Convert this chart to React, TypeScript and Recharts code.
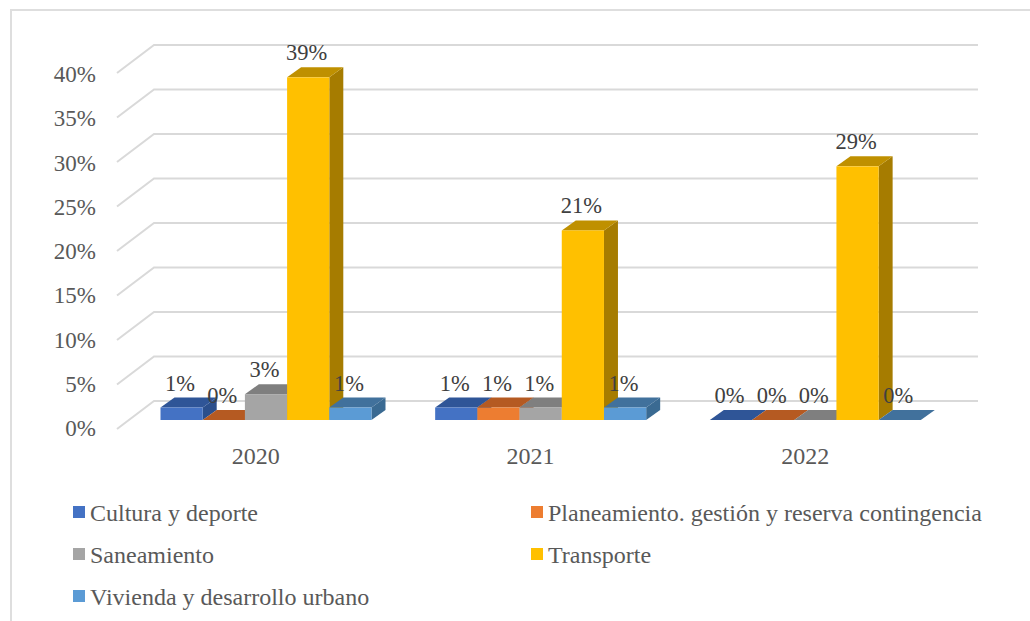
import { BarChart, Bar, XAxis, YAxis, CartesianGrid, Legend, LabelList } from "recharts";

const categories = ["2020", "2021", "2022"];
const cultura = [1.4, 1.4, 0];
const planeamiento = [0, 1.4, 0];
const saneamiento = [2.9, 1.4, 0];
const transporte = [38.5, 21.3, 28.5];
const vivienda = [1.4, 1.4, 0];
const yTicks = [0, 5, 10, 15, 20, 25, 30, 35, 40];

const chartData = categories.map((year, i) => ({
  year,
  cultura: cultura[i],
  planeamiento: planeamiento[i],
  saneamiento: saneamiento[i],
  transporte: transporte[i],
  vivienda: vivienda[i],
}));

const SERIES = [
  { key: "cultura", name: "Cultura y deporte", front: "#4472C4", top: "#2F5597", side: "#2B4F8C" },
  { key: "planeamiento", name: "Planeamiento. gestión y reserva contingencia", front: "#ED7D31", top: "#B55A22", side: "#A5511E" },
  { key: "saneamiento", name: "Saneamiento", front: "#A5A5A5", top: "#7F7F7F", side: "#737373" },
  { key: "transporte", name: "Transporte", front: "#FFC000", top: "#BF9000", side: "#A67C00" },
  { key: "vivienda", name: "Vivienda y desarrollo urbano", front: "#5B9BD5", top: "#41719C", side: "#3A6A92" },
];

const FONT = "'Liberation Serif', serif";
const DEPTH_X = 14;
const DEPTH_Y = 10;

// front face plus top and side, all offset from the rect the Bar hands over
function Box3D(props: any) {
  const { x, y, width, height, front, top, side } = props;
  const r = x + width;
  const b = y + height;
  return (
    <g>
      <polygon points={`${r},${y} ${r + DEPTH_X},${y - DEPTH_Y} ${r + DEPTH_X},${b - DEPTH_Y} ${r},${b}`} fill={side} />
      <polygon points={`${x},${y} ${x + DEPTH_X},${y - DEPTH_Y} ${r + DEPTH_X},${y - DEPTH_Y} ${r},${y}`} fill={top} />
      <rect x={x} y={y} width={width} height={height} fill={front} />
    </g>
  );
}

function WallLine(props: any) {
  const { x1, y1, index } = props;
  return (
    <polyline
      key={index}
      points={`${x1 - 11.5},${y1 + 9} ${x1 + 25.5},${y1 - 19} 978,${y1 - 19}`}
      fill="none"
      stroke="#D9D9D9"
      strokeWidth={2}
    />
  );
}

function YTick({ y, payload }: any) {
  // the labels run a little tighter than the wall lines
  const shift = 18 - (40 - payload.value) * 0.045;
  return (
    <text x={96} y={y + shift} textAnchor="end" fontFamily={FONT} fontSize={23} fill="#595959">
      {payload.value}%
    </text>
  );
}

function XTick({ x, payload }: any) {
  return (
    <text x={x - 10} y={464} textAnchor="middle" fontFamily={FONT} fontSize={24} fill="#595959">
      {payload.value}
    </text>
  );
}

function ValueLabel({ x, y, width, value }: any) {
  return (
    <text x={x + width / 2 - 1.5} y={y - 17} textAnchor="middle" fontFamily={FONT} fontSize={22.5} fill="#404040">
      {Math.round(value)}%
    </text>
  );
}

function LegendBlock() {
  return (
    <div
      style={{
        display: "grid",
        gridTemplateColumns: "458px 480px",
        gridAutoRows: "42px",
        height: 126,
        fontFamily: FONT,
        fontSize: 24,
        color: "#595959",
      }}
    >
      {SERIES.map((s) => (
        <div key={s.key} style={{ display: "flex", alignItems: "center", whiteSpace: "nowrap" }}>
          <span style={{ width: 12, height: 12, background: s.front, marginRight: 5, position: "relative", top: -1 }} />
          {s.name}
        </div>
      ))}
    </div>
  );
}

export default function App() {
  return (
    <div style={{ position: "absolute", left: 0, top: 0, width: 1030, height: 621, overflow: "hidden", background: "#fff" }}>
      <div
        style={{
          position: "absolute",
          left: 10,
          top: 9,
          width: 1040,
          height: 640,
          border: "2px solid #DEDEDE",
        }}
      />
      <BarChart
        width={1030}
        height={621}
        data={chartData}
        barGap={0}
        barSize={42.2}
        margin={{ top: 64, right: 77.5, left: 0, bottom: 35 }}
      >
        <CartesianGrid vertical={false} horizontal={WallLine} />
        <XAxis dataKey="year" axisLine={false} tickLine={false} height={40} tick={XTick} />
        <YAxis domain={[0, 40]} ticks={yTicks} width={128.5} axisLine={false} tickLine={false} tick={YTick} />
        <Legend
          content={LegendBlock}
          wrapperStyle={{ left: 73, bottom: 3, width: 950 }}
        />
        {SERIES.map((s) => (
          <Bar
            key={s.key}
            dataKey={s.key}
            name={s.name}
            fill={s.front}
            isAnimationActive={false}
            shape={(p: any) => <Box3D {...p} front={s.front} top={s.top} side={s.side} />}
          >
            <LabelList dataKey={s.key} content={ValueLabel} />
          </Bar>
        ))}
      </BarChart>
    </div>
  );
}
